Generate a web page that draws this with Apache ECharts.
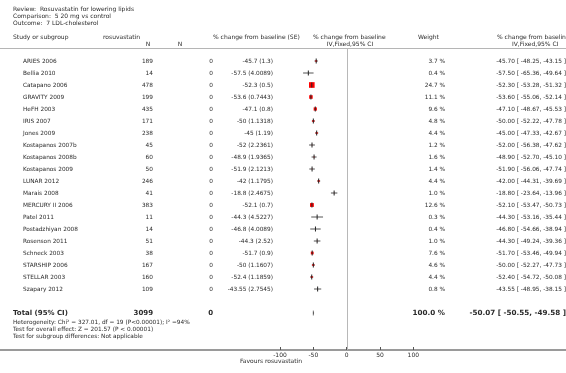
<!DOCTYPE html>
<html>
<head>
<meta charset="utf-8">
<script src="https://cdn.jsdelivr.net/npm/echarts@6/dist/echarts.min.js"></script>
<style>
html, body { margin: 0; padding: 0; background: #fff; }
#forest { width: 566px; height: 373px; }
</style>
</head>
<body>
<div id="forest"></div>
<script>
// study rows
var studies = ['ARIES 2006', 'Bellia 2010', 'Catapano 2006', 'GRAVITY 2009', 'HeFH 2003', 'IRIS 2007',
    'Jones 2009', 'Kostapanos 2007b', 'Kostapanos 2008b', 'Kostapanos 2009', 'LUNAR 2012', 'Marais 2008',
    'MERCURY II 2006', 'Patel 2011', 'Postadzhiyan 2008', 'Rosenson 2011', 'Schneck 2003', 'STARSHIP 2006',
    'STELLAR 2003', 'Szapary 2012'];
var rosuN = [189, 14, 478, 199, 435, 171, 238, 45, 60, 50, 246, 41, 383, 11, 14, 51, 38, 167, 160, 109];
var ctrlN = [0, 0, 0, 0, 0, 0, 0, 0, 0, 0, 0, 0, 0, 0, 0, 0, 0, 0, 0, 0];
var meanChange = [-45.7, -57.5, -52.3, -53.6, -47.1, -50, -45, -52, -48.9, -51.9, -42, -18.8, -52.1, -44.3,
    -46.8, -44.3, -51.7, -50, -52.4, -43.55];
var seChange = [1.3, 4.0089, 0.5, 0.7443, 0.8, 1.1318, 1.19, 2.2361, 1.9365, 2.1213, 1.1795, 2.4675, 0.7,
    4.5227, 4.0089, 2.52, 0.9, 1.1607, 1.1859, 2.7545];
var weights = [3.7, 0.4, 24.7, 11.1, 9.6, 4.8, 4.4, 1.2, 1.6, 1.4, 4.4, 1.0, 12.6, 0.3, 0.4, 1.0, 7.6, 4.6, 4.4, 0.8];
var ciLow = [-48.25, -65.36, -53.28, -55.06, -48.67, -52.22, -47.33, -56.38, -52.70, -56.06, -44.31, -23.64,
    -53.47, -53.16, -54.66, -49.24, -53.46, -52.27, -54.72, -48.95];
var ciHigh = [-43.15, -49.64, -51.32, -52.14, -45.53, -47.78, -42.67, -47.62, -45.10, -47.74, -39.69, -13.96,
    -50.73, -35.44, -38.94, -39.36, -49.94, -47.73, -50.08, -38.15];

// pooled
var totalN = [3099, 0];
var totalEffect = [-50.07, -50.55, -49.58];
var totalWeight = 100.0;
var totalRow = 21;

var axisTicks = [-100, -50, 0, 50, 100];
var noEffect = 0;

var FONT = 'DejaVu Sans';
var TXT = '#2b2b2b';
var Y_MIN = -13 / 12;
var Y_MAX = 302 / 12 - 13 / 12;

function txt(x, y, s, align, size, bold) {
    return {
        type: 'text', x: x, y: y, silent: true,
        style: {
            text: s, fill: TXT, fontFamily: FONT, fontSize: size || 5.8, fontWeight: bold ? 'bold' : 'normal',
            align: align || 'left', textAlign: align || 'left',
            verticalAlign: 'middle', textVerticalAlign: 'middle'
        }
    };
}

var rowData = [];
for (var i = 0; i < studies.length; i++) {
    rowData.push([meanChange[i], ciLow[i], ciHigh[i], weights[i], i]);
}

var myChart = echarts.init(document.getElementById('forest'));
var option = {
    animation: false,
    grid: { left: 0, right: 0, top: 48, bottom: 23 },
    xAxis: [{
        type: 'value', position: 'bottom', min: -520, max: 329,
        axisLine: { onZero: false, lineStyle: { color: '#9a9a9a', width: 2 } },
        axisTick: { show: true, inside: true, length: 3, customValues: axisTicks, lineStyle: { color: '#555' } },
        axisLabel: { customValues: axisTicks, fontFamily: FONT, fontSize: 6, color: TXT, margin: 2 },
        splitLine: { show: false }
    }, {
        type: 'value', position: 'top', min: -520, max: 329,
        axisLine: { onZero: false, lineStyle: { color: '#b5b5b5', width: 1 } },
        axisTick: { show: false }, axisLabel: { show: false }, splitLine: { show: false }
    }],
    yAxis: {
        type: 'value', inverse: true, min: Y_MIN, max: Y_MAX,
        axisLine: { show: false }, axisTick: { show: false }, axisLabel: { show: false }, splitLine: { show: false }
    },
    graphic: [
        txt(13, 9, 'Review:  Rosuvastatin for lowering lipids', 'left', 6),
        txt(13, 16, 'Comparison:  5 20 mg vs control', 'left', 6),
        txt(13, 23, 'Outcome:  7 LDL-cholesterol', 'left', 6),
        txt(13, 37, 'Study or subgroup', 'left', 6),
        txt(103, 37, 'rosuvastatin', 'left', 6),
        txt(148, 44, 'N', 'center', 6),
        txt(180, 44, 'N', 'center', 6),
        txt(213, 37, '% change from baseline (SE)', 'left', 6),
        txt(313, 37, '% change from baseline', 'left', 6),
        txt(350, 44, 'IV,Fixed,95% CI', 'center', 6),
        txt(418, 37, 'Weight', 'left', 6),
        txt(497, 37, '% change from baseline', 'left', 6),
        txt(512, 44, 'IV,Fixed,95% CI', 'left', 6),
        txt(13, 322, 'Heterogeneity: Chi\u00b2 = 327.01, df = 19 (P<0.00001); I\u00b2 =94%', 'left', 5.8),
        txt(13, 329, 'Test for overall effect: Z = 201.57 (P < 0.00001)', 'left', 5.8),
        txt(13, 336, 'Test for subgroup differences: Not applicable', 'left', 5.8),
        txt(271, 361, 'Favours rosuvastatin', 'center', 6)
    ],
    series: [{
        // line of no effect
        type: 'custom', silent: true, clip: false, z: 1,
        data: [[noEffect, Y_MIN, Y_MAX]],
        renderItem: function (params, api) {
            var top = api.coord([api.value(0), api.value(1)]);
            var bot = api.coord([api.value(0), api.value(2)]);
            return {
                type: 'rect',
                shape: { x: Math.round(top[0]), y: top[1], width: 1, height: bot[1] - top[1] },
                style: { fill: '#b8b8b8' }
            };
        }
    }, {
        // table text per study
        type: 'custom', silent: true, clip: false,
        data: rowData,
        renderItem: function (params, api) {
            var k = params.dataIndex;
            var y = api.coord([0, api.value(4)])[1];
            return {
                type: 'group', children: [
                    txt(23, y, studies[k]),
                    txt(153, y, String(rosuN[k]), 'right'),
                    txt(213, y, String(ctrlN[k]), 'right'),
                    txt(273, y, meanChange[k] + ' (' + seChange[k] + ')', 'right'),
                    txt(445, y, weights[k].toFixed(1) + ' %', 'right'),
                    txt(566, y, meanChange[k].toFixed(2) + ' [ ' + ciLow[k].toFixed(2) + ', ' + ciHigh[k].toFixed(2) + ' ]', 'right')
                ]
            };
        }
    }, {
        // CI lines, weight squares, point ticks
        type: 'custom', silent: true,
        data: rowData,
        renderItem: function (params, api) {
            var row = api.value(4);
            var pm = api.coord([api.value(0), row]);
            var pl = api.coord([api.value(1), row]);
            var ph = api.coord([api.value(2), row]);
            var s = Math.max(0, Math.sqrt(api.value(3)) * 1.3 - 0.8);
            return {
                type: 'group', children: [
                    { type: 'line', shape: { x1: pl[0], y1: pm[1], x2: ph[0], y2: pm[1] }, style: { stroke: '#555', lineWidth: 1 } },
                    { type: 'rect', shape: { x: pm[0] - s / 2, y: pm[1] - s / 2, width: s, height: s }, style: { fill: '#ff0000' } },
                    { type: 'line', shape: { x1: pm[0], y1: pm[1] - 2.5, x2: pm[0], y2: pm[1] + 2.5 }, style: { stroke: '#222', lineWidth: 1 } }
                ]
            };
        }
    }, {
        // pooled diamond + total row text
        type: 'custom', silent: true, clip: false,
        data: [[totalEffect[0], totalEffect[1], totalEffect[2], totalRow]],
        renderItem: function (params, api) {
            var row = api.value(3);
            var c = api.coord([api.value(0), row]);
            var l = api.coord([api.value(1), row]);
            var h = api.coord([api.value(2), row]);
            return {
                type: 'group', children: [
                    { type: 'polygon', shape: { points: [[l[0], c[1]], [c[0], c[1] - 2.5], [h[0], c[1]], [c[0], c[1] + 2.5]] },
                      style: { fill: '#000', stroke: '#444', lineWidth: 0.3 } },
                    txt(13, c[1], 'Total (95% CI)', 'left', 7, true),
                    txt(153, c[1], String(totalN[0]), 'right', 7, true),
                    txt(213, c[1], String(totalN[1]), 'right', 7, true),
                    txt(445, c[1], totalWeight.toFixed(1) + ' %', 'right', 7.2, true),
                    txt(566, c[1], totalEffect[0].toFixed(2) + ' [ ' + totalEffect[1].toFixed(2) + ', ' + totalEffect[2].toFixed(2) + ' ]', 'right', 7.2, true)
                ]
            };
        }
    }]
};
myChart.setOption(option);
</script>
</body>
</html>
